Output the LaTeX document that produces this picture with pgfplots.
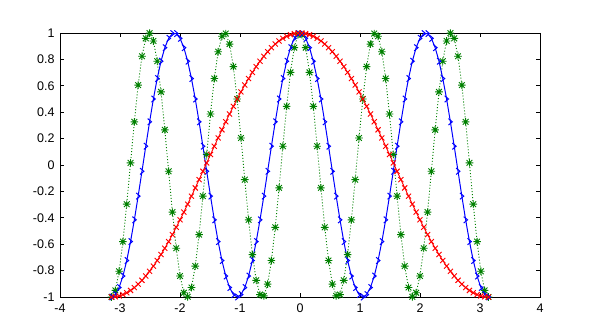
\documentclass[border=0pt]{standalone}
\usepackage{pgfplots}
\pgfplotsset{compat=1.18}
\usepackage{pgfplotstable}
\usepackage{fontspec}
\setmainfont{Liberation Sans}
\definecolor{gred}{RGB}{255,0,0}
\definecolor{gblue}{RGB}{0,0,255}
\definecolor{ggreen}{RGB}{0,128,0}
\pgfdeclareplotmark{rchev}{%
  \pgfpathmoveto{\pgfqpoint{-0.6\pgfplotmarksize}{\pgfplotmarksize}}%
  \pgfpathlineto{\pgfqpoint{0.6\pgfplotmarksize}{0pt}}%
  \pgfpathlineto{\pgfqpoint{-0.6\pgfplotmarksize}{-\pgfplotmarksize}}%
  \pgfusepathqstroke}
\pgfdeclareplotmark{gstar}{%
  \pgfpathmoveto{\pgfqpoint{-\pgfplotmarksize}{0pt}}%
  \pgfpathlineto{\pgfqpoint{\pgfplotmarksize}{0pt}}%
  \pgfpathmoveto{\pgfqpoint{0pt}{-\pgfplotmarksize}}%
  \pgfpathlineto{\pgfqpoint{0pt}{\pgfplotmarksize}}%
  \pgfpathmoveto{\pgfqpoint{-0.75\pgfplotmarksize}{-0.75\pgfplotmarksize}}%
  \pgfpathlineto{\pgfqpoint{0.75\pgfplotmarksize}{0.75\pgfplotmarksize}}%
  \pgfpathmoveto{\pgfqpoint{-0.75\pgfplotmarksize}{0.75\pgfplotmarksize}}%
  \pgfpathlineto{\pgfqpoint{0.75\pgfplotmarksize}{-0.75\pgfplotmarksize}}%
  \pgfusepathqstroke}
\pgfplotstableread{
x r b g
-3.1416 -1.0000 -1.0000 -1.0000
-3.0781 -0.9980 -0.9819 -0.9501
-3.0147 -0.9920 -0.9284 -0.8053
-2.9512 -0.9819 -0.8413 -0.5801
-2.8877 -0.9680 -0.7237 -0.2969
-2.8243 -0.9501 -0.5801 0.0159
-2.7608 -0.9284 -0.4154 0.3271
-2.6973 -0.9029 -0.2358 0.6056
-2.6339 -0.8739 -0.0476 0.8237
-2.5704 -0.8413 0.1423 0.9595
-2.5069 -0.8053 0.3271 0.9995
-2.4435 -0.7660 0.5000 0.9397
-2.3800 -0.7237 0.6549 0.7861
-2.3165 -0.6785 0.7861 0.5539
-2.2531 -0.6306 0.8888 0.2665
-2.1896 -0.5801 0.9595 -0.0476
-2.1261 -0.5272 0.9955 -0.3569
-2.0627 -0.4723 0.9955 -0.6306
-1.9992 -0.4154 0.9595 -0.8413
-1.9357 -0.3569 0.8888 -0.9680
-1.8723 -0.2969 0.7861 -0.9980
-1.8088 -0.2358 0.6549 -0.9284
-1.7453 -0.1736 0.5000 -0.7660
-1.6819 -0.1108 0.3271 -0.5272
-1.6184 -0.0476 0.1423 -0.2358
-1.5549 0.0159 -0.0476 0.0793
-1.4915 0.0793 -0.2358 0.3863
-1.4280 0.1423 -0.4154 0.6549
-1.3645 0.2048 -0.5801 0.8580
-1.3011 0.2665 -0.7237 0.9754
-1.2376 0.3271 -0.8413 0.9955
-1.1741 0.3863 -0.9284 0.9161
-1.1107 0.4441 -0.9819 0.7453
-1.0472 0.5000 -1.0000 0.5000
-0.9837 0.5539 -0.9819 0.2048
-0.9203 0.6056 -0.9284 -0.1108
-0.8568 0.6549 -0.8413 -0.4154
-0.7933 0.7015 -0.7237 -0.6785
-0.7299 0.7453 -0.5801 -0.8739
-0.6664 0.7861 -0.4154 -0.9819
-0.6029 0.8237 -0.2358 -0.9920
-0.5395 0.8580 -0.0476 -0.9029
-0.4760 0.8888 0.1423 -0.7237
-0.4125 0.9161 0.3271 -0.4723
-0.3491 0.9397 0.5000 -0.1736
-0.2856 0.9595 0.6549 0.1423
-0.2221 0.9754 0.7861 0.4441
-0.1587 0.9874 0.8888 0.7015
-0.0952 0.9955 0.9595 0.8888
-0.0317 0.9995 0.9955 0.9874
0.0317 0.9995 0.9955 0.9874
0.0952 0.9955 0.9595 0.8888
0.1587 0.9874 0.8888 0.7015
0.2221 0.9754 0.7861 0.4441
0.2856 0.9595 0.6549 0.1423
0.3491 0.9397 0.5000 -0.1736
0.4125 0.9161 0.3271 -0.4723
0.4760 0.8888 0.1423 -0.7237
0.5395 0.8580 -0.0476 -0.9029
0.6029 0.8237 -0.2358 -0.9920
0.6664 0.7861 -0.4154 -0.9819
0.7299 0.7453 -0.5801 -0.8739
0.7933 0.7015 -0.7237 -0.6785
0.8568 0.6549 -0.8413 -0.4154
0.9203 0.6056 -0.9284 -0.1108
0.9837 0.5539 -0.9819 0.2048
1.0472 0.5000 -1.0000 0.5000
1.1107 0.4441 -0.9819 0.7453
1.1741 0.3863 -0.9284 0.9161
1.2376 0.3271 -0.8413 0.9955
1.3011 0.2665 -0.7237 0.9754
1.3645 0.2048 -0.5801 0.8580
1.4280 0.1423 -0.4154 0.6549
1.4915 0.0793 -0.2358 0.3863
1.5549 0.0159 -0.0476 0.0793
1.6184 -0.0476 0.1423 -0.2358
1.6819 -0.1108 0.3271 -0.5272
1.7453 -0.1736 0.5000 -0.7660
1.8088 -0.2358 0.6549 -0.9284
1.8723 -0.2969 0.7861 -0.9980
1.9357 -0.3569 0.8888 -0.9680
1.9992 -0.4154 0.9595 -0.8413
2.0627 -0.4723 0.9955 -0.6306
2.1261 -0.5272 0.9955 -0.3569
2.1896 -0.5801 0.9595 -0.0476
2.2531 -0.6306 0.8888 0.2665
2.3165 -0.6785 0.7861 0.5539
2.3800 -0.7237 0.6549 0.7861
2.4435 -0.7660 0.5000 0.9397
2.5069 -0.8053 0.3271 0.9995
2.5704 -0.8413 0.1423 0.9595
2.6339 -0.8739 -0.0476 0.8237
2.6973 -0.9029 -0.2358 0.6056
2.7608 -0.9284 -0.4154 0.3271
2.8243 -0.9501 -0.5801 0.0159
2.8877 -0.9680 -0.7237 -0.2969
2.9512 -0.9819 -0.8413 -0.5801
3.0147 -0.9920 -0.9284 -0.8053
3.0781 -0.9980 -0.9819 -0.9501
3.1416 -1.0000 -1.0000 -1.0000
}\datatable
\begin{document}
\begin{tikzpicture}
\useasboundingbox (0,0) rectangle (600pt,331pt);
\begin{axis}[
  at={(60pt,34pt)}, anchor=south west,
  scale only axis, width=480pt, height=264pt,
  xmin=-4, xmax=4, ymin=-1, ymax=1,
  axis line style={line width=0.9pt},
  tick align=inside, major tick length=4pt,
  tick style={line width=0.9pt, black},
  xtick={-4,-3,-2,-1,0,1,2,3,4},
  xticklabels={-4,-3,-2,-1,0,1,2,3,4},
  ytick={-1,-0.8,-0.6,-0.4,-0.2,0,0.2,0.4,0.6,0.8,1},
  yticklabels={-1,-0.8,-0.6,-0.4,-0.2,0,0.2,0.4,0.6,0.8,1},
  ticklabel style={font=\fontsize{12.5pt}{14pt}\selectfont},
  xticklabel style={yshift=-3pt},
  yticklabel style={xshift=-2pt},
  clip=false,
]
\addplot[color=ggreen, line width=0.9pt, dash pattern=on 1pt off 2pt, mark=gstar, mark size=3.8pt, mark options={solid, line width=0.9pt}] table[x=x, y=g] {\datatable};
\addplot[color=gblue, line width=1pt, mark=rchev, mark size=3.2pt, mark options={solid, line width=1pt}] table[x=x, y=b] {\datatable};
\addplot[color=gred, line width=0.9pt, mark=x, mark size=3.6pt, mark options={solid, line width=0.9pt}] table[x=x, y=r] {\datatable};
\end{axis}
\end{tikzpicture}
\end{document}
